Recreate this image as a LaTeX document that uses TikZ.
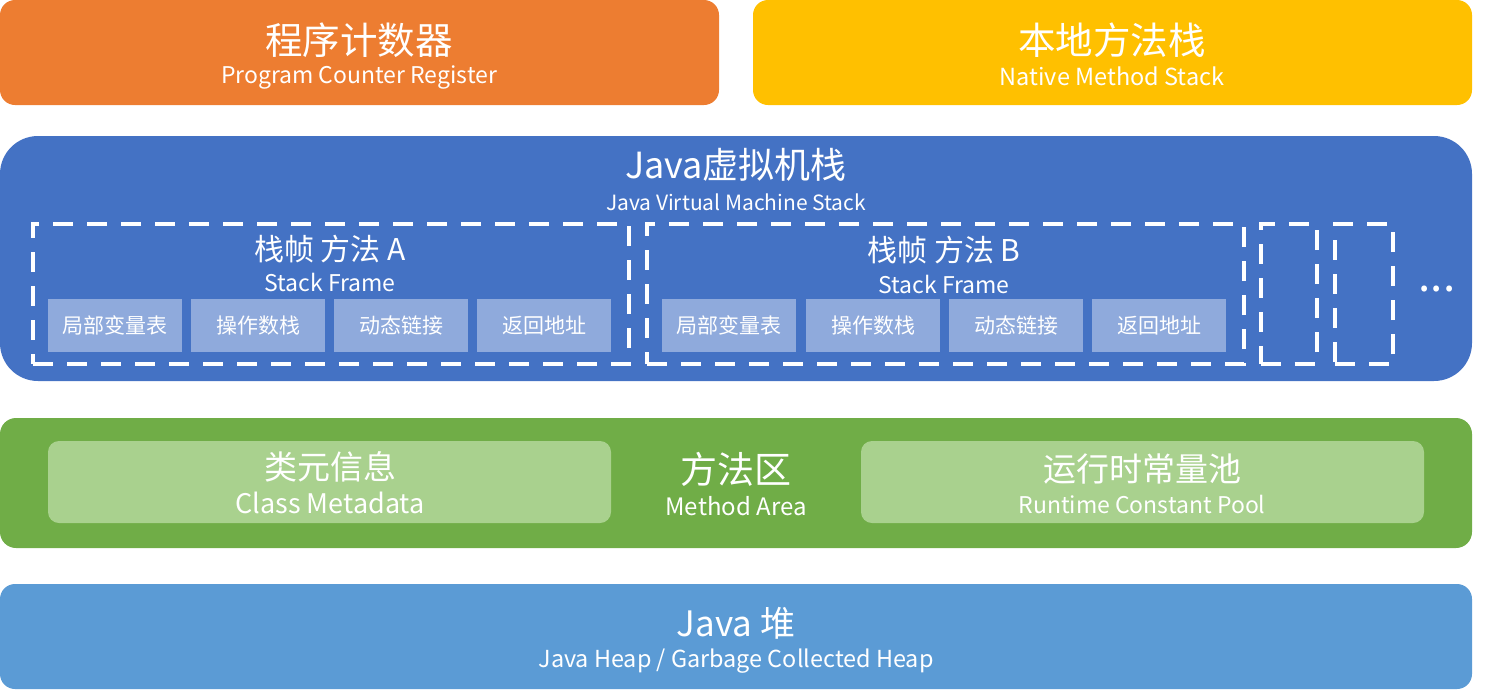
\documentclass[tikz,border=0pt]{standalone}
\usepackage{fontspec}
\setmainfont{Noto Sans CJK SC}
\begin{document}
\begin{tikzpicture}[x=1pt,y=-1pt,
  area/.style={inner sep=0pt, outer sep=0pt, draw=none},
  lbl/.style={text=white, inner sep=0pt, anchor=center},
  cell/.style={fill=cellblue, inner sep=0pt, minimum width=134pt, minimum height=53pt, text=white, font=\fontsize{21}{21}\selectfont},
  frame/.style={draw=white, line width=4pt, dash pattern=on 20pt off 14pt, inner sep=0pt},
]
\definecolor{pcorange}{HTML}{ED7D31}
\definecolor{nmyellow}{HTML}{FFC000}
\definecolor{jvmblue}{HTML}{4472C4}
\definecolor{cellblue}{HTML}{8FAADC}
\definecolor{magreen}{HTML}{70AD47}
\definecolor{lightgreen}{HTML}{A9D18E}
\definecolor{heapblue}{HTML}{5B9BD5}
\useasboundingbox (0,0) rectangle (1493,689);

% Program counter
\node[area, fill=pcorange, rounded corners=15pt, minimum width=719pt, minimum height=105pt] (pc) at (359.5,52.5) {};
\node[lbl, font=\fontsize{37.5}{37.5}\selectfont] (pct) at (359,40) {程序计数器};
\node[lbl, font=\fontsize{23}{23}\selectfont] (pce) at (359,77) {Program Counter Register};

% Native method stack
\node[area, fill=nmyellow, rounded corners=15pt, minimum width=719pt, minimum height=105pt] (nm) at (1112.5,52.5) {};
\node[lbl, font=\fontsize{37.5}{37.5}\selectfont] (nmt) at (1112,40) {本地方法栈};
\node[lbl, font=\fontsize{23.5}{23.5}\selectfont] (nme) at (1112,76) {Native Method Stack};

% JVM stack
\node[area, fill=jvmblue, rounded corners=38pt, minimum width=1472pt, minimum height=245pt] (jvm) at (736,258.5) {};
\node[lbl, font=\fontsize{36}{36}\selectfont] (jvmt) at (736,165) {Java虚拟机栈};
\node[lbl, font=\fontsize{21}{21}\selectfont] (jvme) at (736,202) {Java Virtual Machine Stack};

% Frame A
\node[frame, minimum width=596pt, minimum height=140pt] (fa) at (331,294) {};
\node[lbl, font=\fontsize{30}{30}\selectfont] (fat) at (330,249) {栈帧 方法 A};
\node[lbl, font=\fontsize{23}{23}\selectfont] (fae) at (330,282) {Stack Frame};
\node[cell] (a1) at (115,325.5) {局部变量表};
\node[cell] (a2) at (258,325.5) {操作数栈};
\node[cell] (a3) at (401,325.5) {动态链接};
\node[cell] (a4) at (544,325.5) {返回地址};

% Frame B
\node[frame, minimum width=597pt, minimum height=140pt] (fb) at (945.5,294) {};
\node[lbl, font=\fontsize{30}{30}\selectfont] (fbt) at (944,250) {栈帧 方法 B};
\node[lbl, font=\fontsize{23}{23}\selectfont] (fbe) at (944,284) {Stack Frame};
\node[cell] (b1) at (729,325.5) {局部变量表};
\node[cell] (b2) at (873,325.5) {操作数栈};
\node[cell] (b3) at (1016,325.5) {动态链接};
\node[cell] (b4) at (1159,325.5) {返回地址};

% small frames
\node[frame, minimum width=56pt, minimum height=140pt] (fc) at (1288.5,294) {};
\node[frame, minimum width=58pt, minimum height=140pt] (fd) at (1364,294) {};
\node[lbl, font=\fontsize{44}{44}\selectfont] (dots) at (1437,289) {...};

% Method area
\node[area, fill=magreen, rounded corners=16pt, minimum width=1472pt, minimum height=130pt] (ma) at (736,483) {};
\node[area, fill=lightgreen, rounded corners=11pt, minimum width=563pt, minimum height=82pt] (cm) at (329.5,482) {};
\node[lbl, font=\fontsize{33}{33}\selectfont] (cmt) at (330,467) {类元信息};
\node[lbl, font=\fontsize{27}{27}\selectfont] (cme) at (330,503) {Class Metadata};
\node[area, fill=lightgreen, rounded corners=11pt, minimum width=563pt, minimum height=82pt] (rc) at (1142.5,482) {};
\node[lbl, font=\fontsize{33}{33}\selectfont] (rct) at (1142,469) {运行时常量池};
\node[lbl, font=\fontsize{23}{23}\selectfont] (rce) at (1142,504) {Runtime Constant Pool};
\node[lbl, font=\fontsize{37}{37}\selectfont] (mat) at (736,469) {方法区};
\node[lbl, font=\fontsize{24}{24}\selectfont] (mae) at (736,506) {Method Area};

% Heap
\node[area, fill=heapblue, rounded corners=15pt, minimum width=1472pt, minimum height=105pt] (heap) at (736,636.5) {};
\node[lbl, font=\fontsize{35}{35}\selectfont] (heapt) at (736,623) {Java 堆};
\node[lbl, font=\fontsize{23.4}{23.4}\selectfont] (heape) at (736,661) {Java Heap / Garbage Collected Heap};
\end{tikzpicture}
\end{document}
